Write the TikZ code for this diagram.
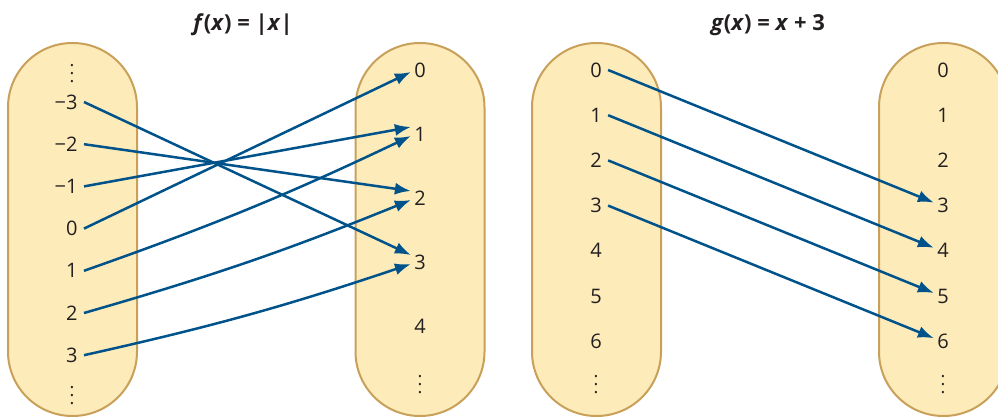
\documentclass[tikz,border=0pt]{standalone}
\usepackage{fontspec}
\setmainfont{Open Sans}
\usetikzlibrary{arrows.meta}

\definecolor{mapblue}{HTML}{00538A}
\definecolor{ovalfill}{HTML}{FDEBB9}
\definecolor{ovaldraw}{HTML}{C9A05A}
\definecolor{numtext}{HTML}{231F20}

\begin{document}
\begin{tikzpicture}[x=0.5pt,y=-0.5pt,
        oval/.style={draw=ovaldraw,fill=ovalfill,line width=1pt,rounded corners=32.2pt,
            minimum width=64.5pt,minimum height=186.5pt,inner sep=0pt},
        num/.style={text=numtext,font=\fontsize{10}{12}\selectfont,inner sep=1.5pt},
        more/.style={text=numtext,font=\fontsize{9}{10}\selectfont,inner sep=0pt},
        title/.style={text=numtext,font=\fontsize{11}{13}\selectfont\bfseries},
        map/.style={draw=mapblue,line width=1.25pt,-{Latex[length=8pt,width=6pt]}}
    ]
    \useasboundingbox (0,0) rectangle (998,417);
    \clip (0,0) rectangle (998,417);

    % the four sets
    \node [oval] (fdom) at (72.5,229.5) {};
    \node [oval] (fcod) at (420,229.5) {};
    \node [oval] (gdom) at (596.5,229.5) {};
    \node [oval] (gcod) at (943.5,229.5) {};

    \node [title] (ftitle) at (243,25) {\textit{f}(\textit{x}) = |\textit{x}|};
    \node [title] (gtitle) at (768,25) {\textit{g}(\textit{x}) = \textit{x} + 3};

    % f(x) = |x|
    \foreach \t [count=\i] in {−3,−2,−1,0,1,2,3}
        \node [num,anchor=east] (fd\i) at (81,{59.8+42.2*\i}) {\t};
    \node [more] (fdtop) at (72,68) {$\vdots$};
    \node [more] (fdbot) at (72,390) {$\vdots$};
    \foreach \t [count=\i] in {0,...,4}
        \node [num] (fc\t) at (420,{6+64*\i}) {\t};
    \node [more] (fcbot) at (420,379) {$\vdots$};

    \foreach \i in {1,2,3} {
        \pgfmathtruncatemacro\a{4-\i}
        \draw [map] ([xshift=1.5pt]fd\i.east) -- ([yshift=3.5pt]fc\a.west);
    }
    \draw [map] ([xshift=1.5pt]fd4.east) -- ([yshift=-1pt]fc0.west);
    \foreach \i in {5,6,7} {
        \pgfmathtruncatemacro\a{\i-4}
        \draw [map] ([xshift=1.5pt]fd\i.east) to[bend right=3] ([yshift=-1pt]fc\a.west);
    }

    % g(x) = x + 3
    \foreach \t [count=\i] in {0,...,6} {
        \node [num] (gd\t) at (596,{24.8+45.2*\i}) {\t};
        \node [num] (gc\t) at (943,{24.8+45.2*\i}) {\t};
    }
    \node [more] (gdbot) at (596,379) {$\vdots$};
    \node [more] (gcbot) at (943,379) {$\vdots$};

    \foreach \t in {0,...,3} {
        \pgfmathtruncatemacro\b{\t+3}
        \draw [map] ([xshift=1.5pt]gd\t.east) -- ([yshift=1.5pt]gc\b.west);
    }
\end{tikzpicture}
\end{document}
